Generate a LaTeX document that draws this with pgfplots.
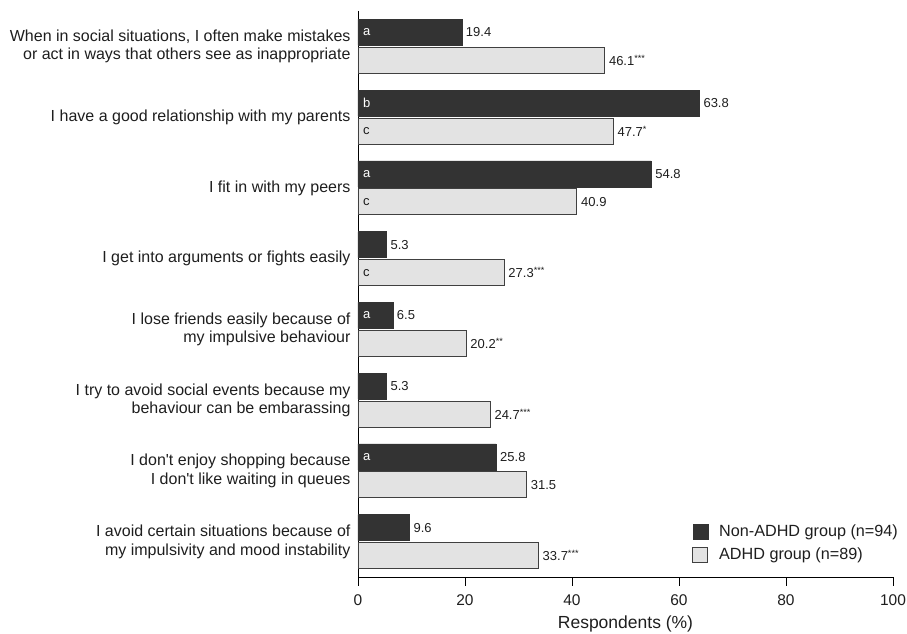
\documentclass[border=0pt]{standalone}
\usepackage{fontspec}
\setmainfont{Liberation Sans}
\usepackage{pgfplots}
\usepackage{pgfplotstable}
\pgfplotsset{compat=1.18}
\usetikzlibrary{calc}
\definecolor{darkbar}{HTML}{333333}
\definecolor{lightbar}{HTML}{E3E3E3}
\definecolor{txt}{HTML}{1E1E1E}

\pgfplotstableread{
y x lab
-0.198 19.4 {19.4}
0.802 63.8 {63.8}
1.802 54.8 {54.8}
2.802 5.3 {5.3}
3.802 6.5 {6.5}
4.802 5.3 {5.3}
5.802 25.8 {25.8}
6.802 9.6 {9.6}
}\nonadhd

\pgfplotstableread{
y x lab
0.198 46.1 {46.1\textsuperscript{***}}
1.198 47.7 {47.7\textsuperscript{*}}
2.198 40.9 {40.9}
3.198 27.3 {27.3\textsuperscript{***}}
4.198 20.2 {20.2\textsuperscript{**}}
5.198 24.7 {24.7\textsuperscript{***}}
6.198 31.5 {31.5}
7.198 33.7 {33.7\textsuperscript{***}}
}\adhd

\pgfplotstableread{
y x lab
-0.198 0 a
0.802 0 b
1.802 0 a
3.802 0 a
5.802 0 a
}\darkletters

\pgfplotstableread{
y x lab
1.198 0 c
2.198 0 c
3.198 0 c
}\lightletters

\begin{document}
\begin{tikzpicture}
\begin{axis}[
  scale only axis,
  width=535bp, height=566bp,
  xmin=0, xmax=100, ymin=-0.5, ymax=7.5,
  y dir=reverse,
  axis x line*=bottom, axis y line*=left,
  axis line style={black, line width=0.9bp, -},
  xtick={0,20,...,100},
  ytick={0,...,7},
  yticklabels={
    {When in social situations, I often make mistakes\\or act in ways that others see as inappropriate},
    {I have a good relationship with my parents},
    {I fit in with my peers},
    {I get into arguments or fights easily},
    {I lose friends easily because of\\my impulsive behaviour},
    {I try to avoid social events because my\\behaviour can be embarassing},
    {I don\textquotesingle t enjoy shopping because\\I don\textquotesingle t like waiting in queues},
    {I avoid certain situations because of\\my impulsivity and mood instability}
  },
  yticklabel style={align=right, font=\fontsize{16bp}{18.5bp}\selectfont, text=txt, xshift=5bp},
  xticklabel style={font=\fontsize{15.5bp}{18bp}\selectfont, text=txt, yshift=-5bp},
  /pgf/number format/assume math mode=true,
  ytick style={draw=none},
  xtick style={black, line width=0.9bp},
  major tick length=9bp,
  tick align=outside,
  xlabel={Respondents (\%)},
  xlabel style={font=\fontsize{17.5bp}{20bp}\selectfont, text=txt, yshift=-3bp},
  clip=false,
  legend cell align=left,
  legend style={at={(axis description cs:0.619,0.02)}, anchor=south west, draw=none, fill=none,
    font=\fontsize{16.2bp}{18bp}\selectfont, text=txt, row sep=6bp,
    /tikz/every odd column/.append style={column sep=9bp}},
  legend image code/.code={\draw[#1] (0bp,-7.5bp) rectangle (15bp,7.5bp);},
]
\addplot[xbar, bar width=0.367, bar shift=0pt, fill=darkbar, draw=darkbar,
  nodes near coords, point meta=explicit symbolic,
  every node near coord/.append style={font=\fontsize{13bp}{15bp}\selectfont, text=txt, anchor=west, inner sep=4bp}]
  table[x=x, y=y, meta=lab]{\nonadhd};
\addlegendentry{Non-ADHD group (n=94)}
\addplot[xbar, bar width=0.367, bar shift=0pt, fill=lightbar, draw=black!75, line width=0.8bp,
  nodes near coords, point meta=explicit symbolic,
  every node near coord/.append style={font=\fontsize{13bp}{15bp}\selectfont, text=txt, anchor=west, inner sep=4bp}]
  table[x=x, y=y, meta=lab]{\adhd};
\addlegendentry{ADHD group (n=89)}
\addplot[forget plot, draw=none, mark=none, nodes near coords, point meta=explicit symbolic,
  every node near coord/.append style={font=\fontsize{13bp}{15bp}\selectfont, text=white, anchor=west, inner sep=0pt, xshift=5bp}]
  table[x=x, y=y, meta=lab]{\darkletters};
\addplot[forget plot, draw=none, mark=none, nodes near coords, point meta=explicit symbolic,
  every node near coord/.append style={font=\fontsize{13bp}{15bp}\selectfont, text=txt, anchor=west, inner sep=0pt, xshift=5bp}]
  table[x=x, y=y, meta=lab]{\lightletters};
\end{axis}
\pgfresetboundingbox
\path ($(current axis.south west)+(-358bp,-57bp)$) rectangle ($(current axis.north east)+(14bp,11bp)$);
\end{tikzpicture}
\end{document}
